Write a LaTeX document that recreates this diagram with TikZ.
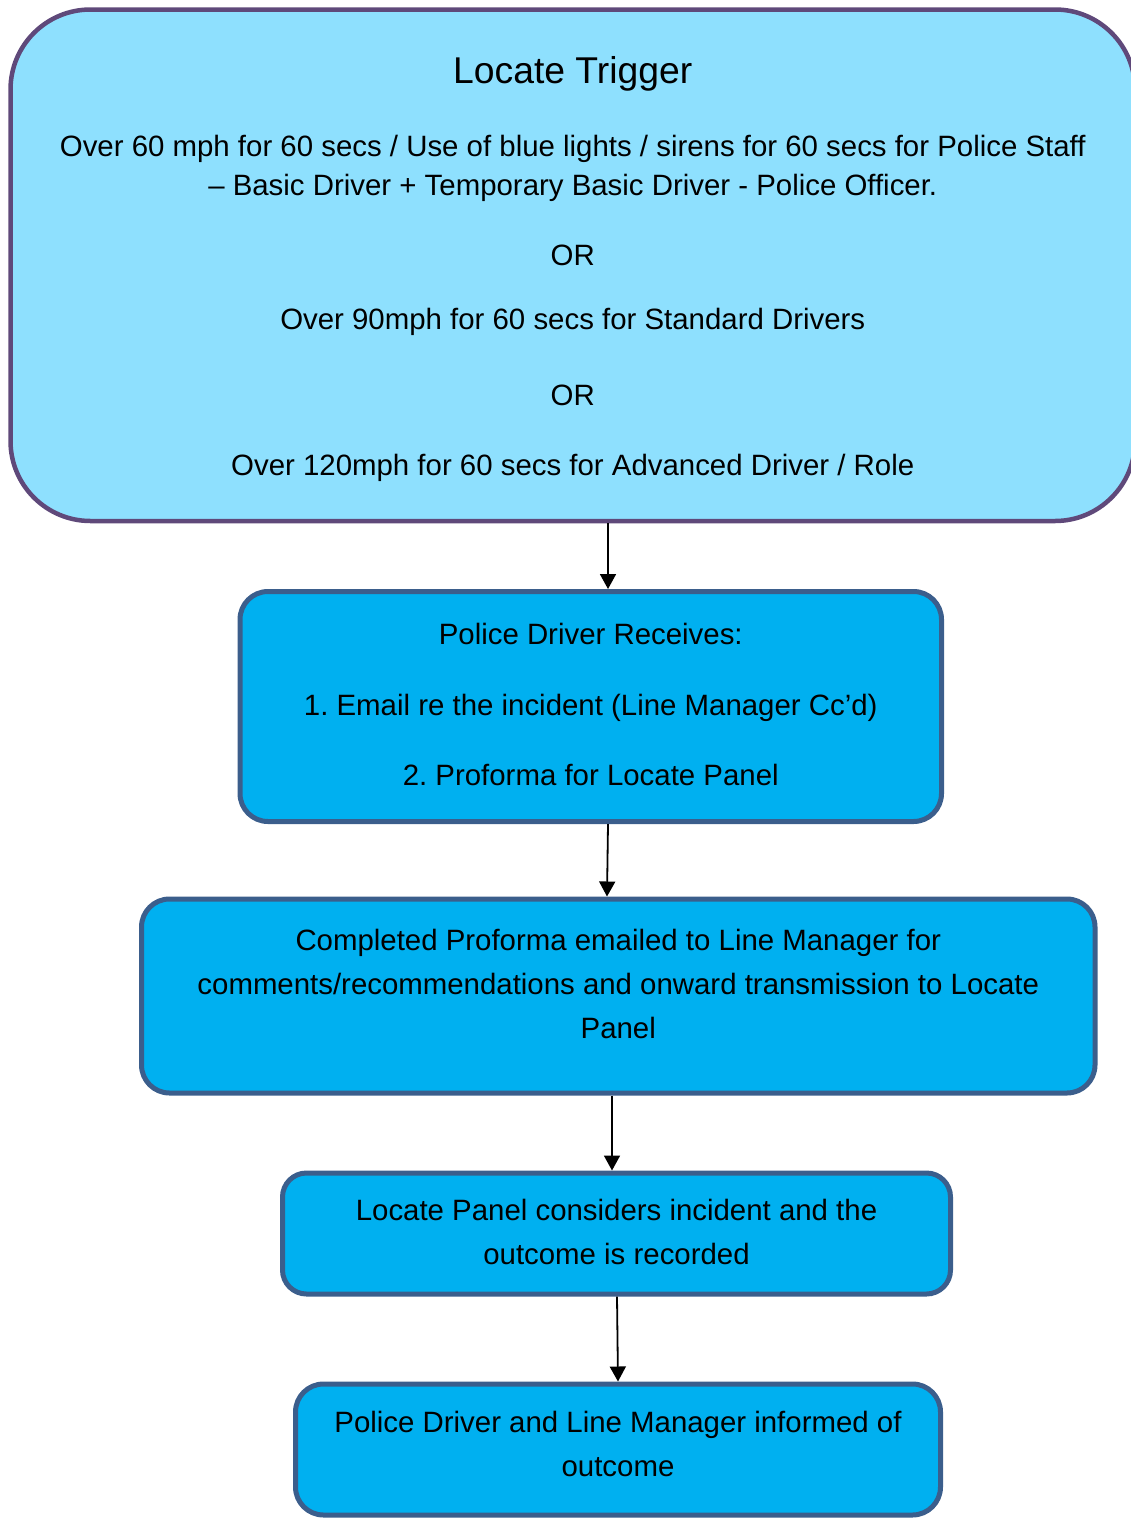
\documentclass[tikz,border=0pt]{standalone}
\usepackage{fontspec}
\setmainfont{Liberation Sans}
\usetikzlibrary{positioning,arrows.meta}
\frenchspacing

\definecolor{trigfill}{HTML}{8EE0FE}
\definecolor{trigline}{HTML}{5F497A}
\definecolor{stepfill}{HTML}{00B0F0}
\definecolor{stepline}{HTML}{3B5E8C}

\begin{document}
\begin{tikzpicture}[x=1pt,y=-1pt,
    trigbox/.style={draw=trigline,fill=trigfill,line width=4.5pt,rounded corners=80pt,inner sep=0pt},
    stepbox/.style={draw=stepline,fill=stepfill,line width=5pt,rounded corners=28pt,inner sep=0pt},
    txt/.style={align=center,inner sep=0pt,outer sep=0pt,font=\fontsize{29.4}{44}\selectfont},
    flow/.style={line width=1.8pt,-{Triangle[width=16pt,length=15pt]}}]
  \useasboundingbox (0,0) rectangle (1131,1518);
  \clip (0,0) rectangle (1131,1518);

  % boxes, sized and placed as in the flow chart
  \node[trigbox,minimum width=1124.5pt,minimum height=511.5pt] (trig) at (572.75,265.25) {};
  \node[stepbox,minimum width=701.5pt,minimum height=230pt] (recv) at (590.75,706.5) {};
  \node[stepbox,minimum width=953.5pt,minimum height=194pt] (form) at (618.25,996) {};
  \node[stepbox,minimum width=668pt,minimum height=121pt,rounded corners=24pt] (panel) at (616.5,1233.5) {};
  \node[stepbox,minimum width=645pt,minimum height=131pt] (inform) at (618,1449.5) {};

  % texts
  \node[txt,font=\fontsize{29.4}{39}\selectfont,below=49pt of trig.north] (trigtext)
    {{\fontsize{37.3}{39}\selectfont Locate Trigger}\\[34pt]
     Over 60 mph for 60 secs / Use of blue lights / sirens for 60 secs for Police Staff\\
     – Basic Driver + Temporary Basic Driver - Police Officer.\\[31pt]
     OR\\[25pt]
     Over 90mph for 60 secs for Standard Drivers\\[37pt]
     OR\\[31pt]
     Over 120mph for 60 secs for Advanced Driver / Role};
  \node[txt,below=34pt of recv.north] (recvtext)
    {Police Driver Receives:\\[27pt]
     1. Email re the incident (Line Manager Cc’d)\\[26pt]
     2. Proforma for Locate Panel};
  \node[txt,below=32.5pt of form.north] (formtext)
    {Completed Proforma emailed to Line Manager for\\
     comments/recommendations and onward transmission to Locate\\
     Panel};
  \node[txt,below=28.5pt of panel.north] (paneltext)
    {Locate Panel considers incident and the\\ outcome is recorded};
  \node[txt,below=29.5pt of inform.north] (informtext)
    {Police Driver and Line Manager informed of\\ outcome};

  % arrows
  \draw[flow] ([xshift=35.25pt]trig.south) -- ([xshift=17.25pt]recv.north);
  \draw[flow] ([xshift=17.25pt]recv.south) -- ([xshift=-11.25pt]form.north);
  \draw[flow] ([xshift=-6.25pt]form.south) -- ([xshift=-4.5pt]panel.north);
  \draw[flow] ([xshift=0.5pt]panel.south) -- (inform.north);
\end{tikzpicture}
\end{document}
